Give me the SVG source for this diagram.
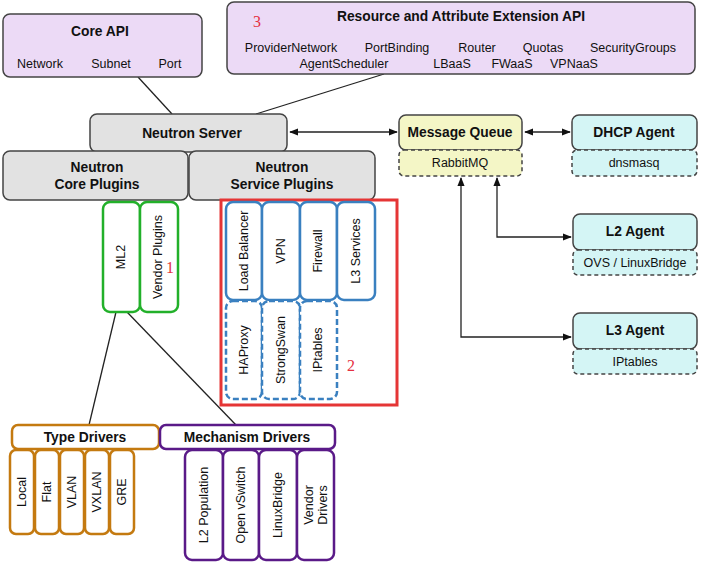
<svg xmlns="http://www.w3.org/2000/svg" width="701" height="567" viewBox="0 0 701 567">
<defs>
<marker id="ah" viewBox="0 0 10 10" refX="9" refY="5" markerWidth="9" markerHeight="9" markerUnits="userSpaceOnUse" orient="auto-start-reverse"><path d="M0,1 L10,5 L0,9 z" fill="#111"/></marker>
<style>
text{font-family:"Liberation Sans",Arial,sans-serif;fill:#111}
.t{font-size:13.8px;font-weight:bold;text-anchor:middle}
.s{font-size:12.5px;text-anchor:middle}
.v{font-size:12.5px;text-anchor:middle;dominant-baseline:central}
.api{fill:#ecdaf6;stroke:#444;stroke-width:1.5}
.gray{fill:#e2e2e2;stroke:#444;stroke-width:1.5}
.yel{fill:#f4f6c6;stroke:#444;stroke-width:1.5}
.yeld{fill:#f4f6c6;stroke:#444;stroke-width:1.5;stroke-dasharray:4,3}
.cy{fill:#d4f5f5;stroke:#444;stroke-width:1.5}
.cyd{fill:#d4f5f5;stroke:#444;stroke-width:1.5;stroke-dasharray:4,3}
.grn{fill:#fff;stroke:#22b02a;stroke-width:2.5}
.blu{fill:#fff;stroke:#3a80c0;stroke-width:2.5}
.blud{fill:#fff;stroke:#3a80c0;stroke-width:2.5;stroke-dasharray:6,3}
.org{fill:#fff;stroke:#c47a10;stroke-width:2.5}
.pur{fill:#fff;stroke:#5a1a88;stroke-width:2.5}
.con{stroke:#222;stroke-width:1.3;fill:none}
.red{font-family:"Liberation Serif",serif;font-size:16px;fill:#e53040}
</style>
</defs>
<rect width="701" height="567" fill="#fff"/>

<g id="connectors">
<line class="con" x1="138" y1="77" x2="172" y2="114"/>
<line class="con" x1="384" y1="74" x2="256" y2="114"/>
<line class="con" x1="116" y1="312" x2="89" y2="425"/>
<line class="con" x1="127" y1="312" x2="236" y2="425"/>
<line class="con" x1="290" y1="132" x2="397" y2="132" marker-start="url(#ah)" marker-end="url(#ah)"/>
<line class="con" x1="525" y1="132" x2="570" y2="132" marker-start="url(#ah)" marker-end="url(#ah)"/>
<polyline class="con" points="497,178 497,237 571,237" marker-start="url(#ah)" marker-end="url(#ah)"/>
<polyline class="con" points="461,178 461,337 571,337" marker-start="url(#ah)" marker-end="url(#ah)"/>
</g>

<g id="core-api">
<rect class="api" x="3" y="14" width="199" height="63" rx="7"/>
<text class="t" x="100" y="36">Core API</text>
<text class="s" x="40" y="68">Network</text>
<text class="s" x="111" y="68">Subnet</text>
<text class="s" x="170" y="68">Port</text>
</g>

<g id="ext-api">
<rect class="api" x="227" y="2" width="468" height="72" rx="7"/>
<text class="t" x="461" y="21">Resource and Attribute Extension API</text>
<text class="red" x="253" y="27">3</text>
<text class="s" x="291" y="52">ProviderNetwork</text>
<text class="s" x="397" y="52">PortBinding</text>
<text class="s" x="477" y="52">Router</text>
<text class="s" x="543" y="52">Quotas</text>
<text class="s" x="633" y="52">SecurityGroups</text>
<text class="s" x="344" y="68">AgentScheduler</text>
<text class="s" x="452" y="68">LBaaS</text>
<text class="s" x="512" y="68">FWaaS</text>
<text class="s" x="574" y="68">VPNaaS</text>
</g>

<g id="neutron-server">
<rect class="gray" x="90" y="114" width="197" height="38" rx="7"/>
<text class="t" x="192" y="138">Neutron Server</text>
</g>

<g id="core-plugins">
<rect class="gray" x="3" y="151" width="185" height="49" rx="7"/>
<text class="t" x="97" y="172">Neutron</text>
<text class="t" x="97" y="189">Core Plugins</text>
</g>

<g id="service-plugins">
<rect class="gray" x="189" y="151" width="186" height="49" rx="7"/>
<text class="t" x="282" y="172">Neutron</text>
<text class="t" x="282" y="189">Service Plugins</text>
</g>

<g id="message-queue">
<rect class="yel" x="399" y="115" width="123" height="35" rx="7"/>
<text class="t" x="460" y="137">Message Queue</text>
<rect class="yeld" x="399" y="150" width="123" height="26" rx="5"/>
<text class="s" x="460" y="167">RabbitMQ</text>
</g>

<g id="dhcp-agent">
<rect class="cy" x="572" y="115" width="125" height="35" rx="7"/>
<text class="t" x="634" y="137">DHCP Agent</text>
<rect class="cyd" x="572" y="150" width="125" height="26" rx="5"/>
<text class="s" x="634" y="167">dnsmasq</text>
</g>

<g id="l2-agent">
<rect class="cy" x="573" y="214" width="124" height="36" rx="7"/>
<text class="t" x="635" y="236">L2 Agent</text>
<rect class="cyd" x="573" y="250" width="124" height="25" rx="5"/>
<text class="s" x="635" y="267">OVS / LinuxBridge</text>
</g>

<g id="l3-agent">
<rect class="cy" x="573" y="313" width="124" height="36" rx="7"/>
<text class="t" x="635" y="335">L3 Agent</text>
<rect class="cyd" x="573" y="349" width="124" height="25" rx="5"/>
<text class="s" x="635" y="366">IPtables</text>
</g>

<g id="ml2">
<rect class="grn" x="103" y="202" width="37" height="110" rx="7"/>
<text class="v" transform="translate(121,257) rotate(-90)">ML2</text>
</g>
<g id="vendor-plugins">
<rect class="grn" x="140" y="202" width="38" height="110" rx="7"/>
<text class="v" transform="translate(158,257) rotate(-90)">Vendor Plugins</text>
<text class="red" x="166" y="273">1</text>
</g>

<g id="highlight-2">
<rect x="221" y="200" width="176" height="205" fill="none" stroke="#e53535" stroke-width="3"/>
<text class="red" x="347" y="371">2</text>
</g>

<g id="load-balancer">
<rect class="blu" x="226" y="202" width="36" height="98" rx="7"/>
<text class="v" transform="translate(244,251) rotate(-90)">Load Balancer</text>
</g>
<g id="vpn">
<rect class="blu" x="262" y="202" width="38" height="98" rx="7"/>
<text class="v" transform="translate(281,251) rotate(-90)">VPN</text>
</g>
<g id="firewall">
<rect class="blu" x="300" y="202" width="37" height="98" rx="7"/>
<text class="v" transform="translate(318,251) rotate(-90)">Firewall</text>
</g>
<g id="l3-services">
<rect class="blu" x="337" y="202" width="38" height="98" rx="7"/>
<text class="v" transform="translate(356,251) rotate(-90)">L3 Services</text>
</g>
<g id="haproxy">
<rect class="blud" x="226" y="301" width="36" height="98" rx="7"/>
<text class="v" transform="translate(244,350) rotate(-90)">HAProxy</text>
</g>
<g id="strongswan">
<rect class="blud" x="262" y="301" width="38" height="98" rx="7"/>
<text class="v" transform="translate(281,350) rotate(-90)">StrongSwan</text>
</g>
<g id="iptables-svc">
<rect class="blud" x="300" y="301" width="37" height="98" rx="7"/>
<text class="v" transform="translate(318,350) rotate(-90)">IPtables</text>
</g>

<g id="type-drivers">
<rect class="org" x="12" y="425" width="147" height="24" rx="6"/>
<text class="t" x="85" y="442">Type Drivers</text>
</g>
<g id="local"><rect class="org" x="10" y="450" width="24" height="84" rx="6"/><text class="v" transform="translate(22,492) rotate(-90)">Local</text></g>
<g id="flat"><rect class="org" x="35" y="450" width="24" height="84" rx="6"/><text class="v" transform="translate(47,492) rotate(-90)">Flat</text></g>
<g id="vlan"><rect class="org" x="60" y="450" width="24" height="84" rx="6"/><text class="v" transform="translate(72,492) rotate(-90)">VLAN</text></g>
<g id="vxlan"><rect class="org" x="85" y="450" width="24" height="84" rx="6"/><text class="v" transform="translate(97,492) rotate(-90)">VXLAN</text></g>
<g id="gre"><rect class="org" x="110" y="450" width="24" height="84" rx="6"/><text class="v" transform="translate(122,492) rotate(-90)">GRE</text></g>

<g id="mechanism-drivers">
<rect class="pur" x="160" y="425" width="175" height="24" rx="6"/>
<text class="t" x="247" y="442">Mechanism Drivers</text>
</g>
<g id="l2-population"><rect class="pur" x="185" y="450" width="38" height="110" rx="7"/><text class="v" transform="translate(204,505) rotate(-90)">L2 Population</text></g>
<g id="open-vswitch"><rect class="pur" x="223" y="450" width="36" height="110" rx="7"/><text class="v" transform="translate(241,505) rotate(-90)">Open vSwitch</text></g>
<g id="linuxbridge"><rect class="pur" x="259" y="450" width="38" height="110" rx="7"/><text class="v" transform="translate(278,505) rotate(-90)">LinuxBridge</text></g>
<g id="vendor-drivers"><rect class="pur" x="297" y="450" width="37" height="110" rx="7"/>
<text class="v" transform="translate(309,505) rotate(-90)">Vendor</text>
<text class="v" transform="translate(323,505) rotate(-90)">Drivers</text></g>
</svg>
